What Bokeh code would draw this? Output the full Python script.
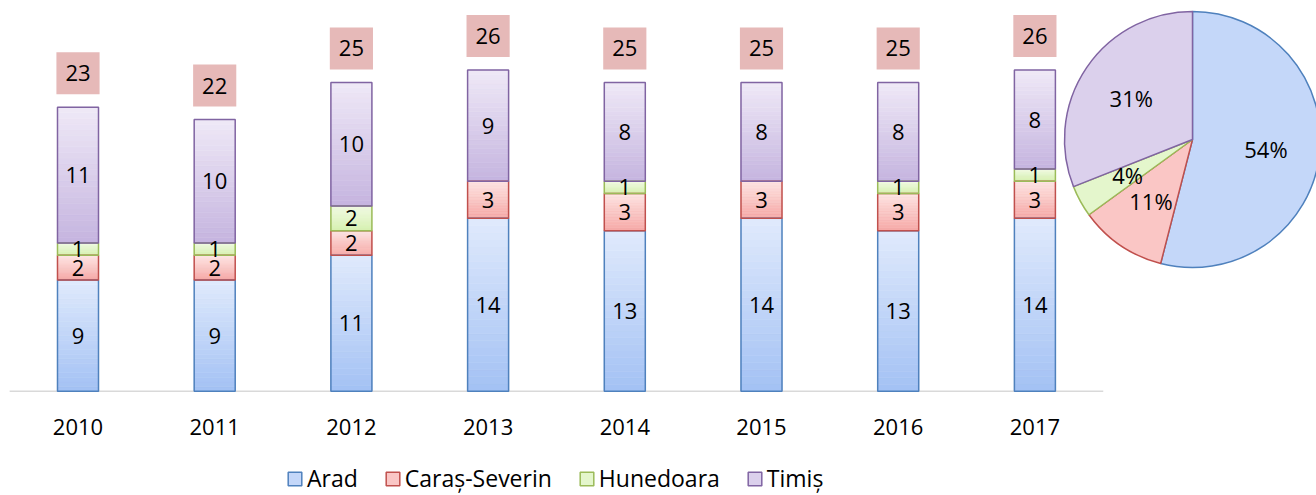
import numpy as np
from bokeh.plotting import figure
from bokeh.models import Range1d, ColumnDataSource, Legend, LegendItem
from bokeh.core.properties import value
from bokeh.embed import file_html
from bokeh.resources import INLINE

# ---------------- data ----------------
years = ["2010", "2011", "2012", "2013", "2014", "2015", "2016", "2017"]
arad = [9, 9, 11, 14, 13, 14, 13, 14]
caras_severin = [2, 2, 2, 3, 3, 3, 3, 3]
hunedoara = [1, 1, 2, 0, 1, 0, 1, 1]
timis = [11, 10, 10, 9, 8, 8, 8, 8]
series_names = ["Arad", "Caraș-Severin", "Hunedoara", "Timiș"]
pie_share = [54, 11, 4, 31]  # share of each county in 2017, %

# ---------------- style ----------------
FONT = "Open Sans"
top_colors = ["#e0eafc", "#fde3e2", "#f1fae3", "#efe9f7"]
bottom_colors = ["#a3c1f4", "#f6a8a6", "#d4f0ad", "#c5b4df"]
mid_colors = ["#c4d7f9", "#fac6c5", "#e4f6cc", "#dbd0ec"]
border_colors = ["#4f81bd", "#c0504d", "#9bbb59", "#8064a2"]
total_box = "#e6b9b8"

W, H = 1316, 495
PX_PER_UNIT = 12.35      # vertical pixels per value unit
BASE_PX = 104.3          # pixels below the zero line
CAT_PX = 136.7           # pixels per category
FIRST_PX = 77.5          # pixel position of first category centre
BAR_W = 0.30

p = figure(width=W, height=H, output_backend="svg", toolbar_location=None,
           x_range=Range1d(-FIRST_PX / CAT_PX, (W - FIRST_PX) / CAT_PX),
           y_range=Range1d(-BASE_PX / PX_PER_UNIT, (H - BASE_PX) / PX_PER_UNIT),
           min_border=0, x_axis_type=None, y_axis_type=None,
           outline_line_color=None, background_fill_color="white",
           border_fill_color="white")
p.grid.visible = False

xs = list(range(len(years)))
series = [arad, caras_severin, hunedoara, timis]

# zero line
p.segment(x0=[-0.5], x1=[len(years) - 0.5], y0=[0], y1=[0],
          line_color="#d9d9d9", line_width=1.5)


def mix(c1, c2, t):
    a = [int(c1[i:i + 2], 16) for i in (1, 3, 5)]
    b = [int(c2[i:i + 2], 16) for i in (1, 3, 5)]
    return "#%02x%02x%02x" % tuple(round(a[j] + (b[j] - a[j]) * t) for j in range(3))


N = 24
grad = dict(x=[], bottom=[], top=[], color=[])
outline = dict(x=[], bottom=[], top=[], color=[])
labels = dict(x=[], y=[], text=[])
base = np.zeros(len(years))
for s, vals in enumerate(series):
    for i, v in enumerate(vals):
        if v == 0:
            continue
        b = base[i]
        for k in range(N):
            grad["x"].append(xs[i])
            grad["bottom"].append(b + v * k / N)
            grad["top"].append(b + v * (k + 1) / N)
            grad["color"].append(mix(bottom_colors[s], top_colors[s], (k + 0.5) / N))
        outline["x"].append(xs[i])
        outline["bottom"].append(b)
        outline["top"].append(b + v)
        outline["color"].append(border_colors[s])
        labels["x"].append(xs[i])
        labels["y"].append(b + v / 2)
        labels["text"].append(str(v))
    base = base + np.array(vals)

p.vbar(x="x", bottom="bottom", top="top", width=BAR_W, fill_color="color",
       line_color="color", line_width=0.6, source=ColumnDataSource(grad))
p.vbar(x="x", bottom="bottom", top="top", width=BAR_W, fill_color=None,
       line_color="color", line_width=1.5, source=ColumnDataSource(outline))
p.text(x="x", y="y", text="text", source=ColumnDataSource(labels),
       text_align="center", text_baseline="middle", text_font=value(FONT),
       text_font_size="22px", text_color="black")

# totals
totals = [int(t) for t in base]
p.text(x=xs, y=totals, text=[str(t) for t in totals], y_offset=-34,
       text_align="center", text_baseline="middle", text_font=value(FONT),
       text_font_size="22px", text_color="black",
       background_fill_color=total_box, padding=(9, 13))

# category labels
p.text(x=xs, y=[0] * len(xs), text=years, y_offset=36,
       text_align="center", text_baseline="middle", text_font=value(FONT),
       text_font_size="22px", text_color="black")

# ---------------- pie (2017 shares) ----------------
PIE_CX, PIE_CY, PIE_R = 1192, 139, 128   # centre in figure pixels (from top-left)
p.extra_x_ranges = {"pie_x": Range1d(-PIE_CX, W - PIE_CX)}
p.extra_y_ranges = {"pie_y": Range1d(-(H - PIE_CY), PIE_CY)}
cum = np.concatenate([[0], np.cumsum(pie_share)]) / 100.0
start = np.pi / 2 - 2 * np.pi * cum[:-1]
end = np.pi / 2 - 2 * np.pi * cum[1:]
p.wedge(x=0, y=0, radius=PIE_R, start_angle=start, end_angle=end,
        direction="clock", fill_color=mid_colors, line_color=border_colors,
        line_width=1.5, x_range_name="pie_x", y_range_name="pie_y")
midf = (cum[:-1] + cum[1:]) / 2
R_LAB = 74
p.text(x=R_LAB * np.sin(2 * np.pi * midf), y=R_LAB * np.cos(2 * np.pi * midf),
       text=["%d%%" % v for v in pie_share], x_range_name="pie_x",
       y_range_name="pie_y", text_align="center", text_baseline="middle",
       text_font=value(FONT), text_font_size="22px", text_color="black")

# ---------------- legend ----------------
items = []
for s, name in enumerate(series_names):
    r = p.quad(left=[np.nan], right=[np.nan], top=[np.nan], bottom=[np.nan],
               fill_color=mid_colors[s], line_color=border_colors[s],
               line_width=1.5)
    items.append(LegendItem(label=name, renderers=[r]))
legend = Legend(items=items, orientation="horizontal", location=(286, 1),
                glyph_width=17, glyph_height=17, label_standoff=4, spacing=26,
                padding=0, margin=0, border_line_color=None,
                background_fill_alpha=0, label_text_font=FONT,
                label_text_font_size="23px", label_text_color="black",
                label_height=17)
p.add_layout(legend)

open("out.html", "w").write(file_html(p, INLINE))
